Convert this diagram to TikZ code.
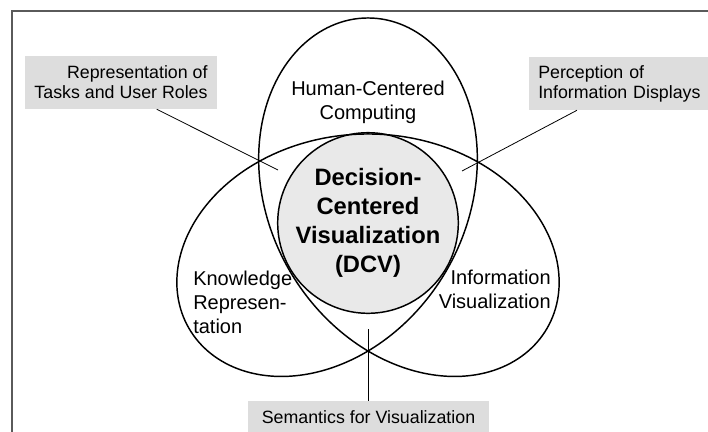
\documentclass[tikz,border=0pt]{standalone}
\usepackage{fontspec}
\setmainfont{Liberation Sans}
\usetikzlibrary{calc}
\definecolor{boxgray}{RGB}{221,221,221}
\definecolor{dcvgray}{RGB}{233,233,233}
\definecolor{framecol}{RGB}{90,90,90}
\begin{document}
\begin{tikzpicture}[x=0.75pt,y=-0.75pt,
  labelbox/.style={fill=boxgray, inner sep=0pt, font=\fontsize{13.35}{15}\selectfont},
  region/.style={inner sep=0pt, font=\fontsize{15}{18}\selectfont},
  leader/.style={draw=black, line width=0.6pt},
  outline/.style={draw=black, line width=1.1pt}]
\useasboundingbox (0,0) rectangle (708,432);
% frame
\draw[framecol, line width=0.8pt] (12,440) -- (12,11) -- (720,11);
% label boxes
\node[labelbox, minimum width=144pt, minimum height=39.75pt, inner xsep=6.4pt, align=right] (box1) at (121,82.5) {Representation of\\Tasks and User Roles};
\node[labelbox, anchor=west, inner xsep=6.75pt, minimum height=39.75pt, text width=130pt, align=left] (box2) at (529,83.5) {Perception of\\Information Displays};
\node[labelbox, minimum width=180.75pt, minimum height=24pt] (box3) at (368.5,417) {Semantics for Visualization};
% central circle
\node[circle, draw=black, line width=1.1pt, fill=dcvgray, minimum size=132pt, inner sep=0pt, align=center,
      font=\fontsize{17.8}{21.75}\selectfont\bfseries] (dcv) at (368,223) {Decision-\\Centered\\Visualization\\(DCV)};
% trefoil outline
\draw[outline] plot[domain=0:359, samples=360, smooth cycle, variable=\t]
  ({368+58*(2.566*sin(2*\t)-sin(\t))}, {224.8-58*(cos(\t)+2.566*cos(2*\t))});
% region labels
\node[region, align=center] (hcc) at (368,102.5) {Human-Centered\\Computing};
\node[region, align=left, anchor=west] (kr) at (193,302) {Knowledge\\Represen-\\tation};
\node[region, align=right, anchor=east] (iv) at (551,289.5) {Information\\Visualization};
% leader lines
\coordinate (l1) at (278,170);
\coordinate (l2) at (462,171);
\coordinate (l3) at (368.5,329);
\draw[leader] ($(box1.south west)+(132,0)$) -- (l1);
\draw[leader] ($(box2.south west)+(48,0)$) -- (l2);
\draw[leader] (box3.north) -- (l3);
\end{tikzpicture}
\end{document}
